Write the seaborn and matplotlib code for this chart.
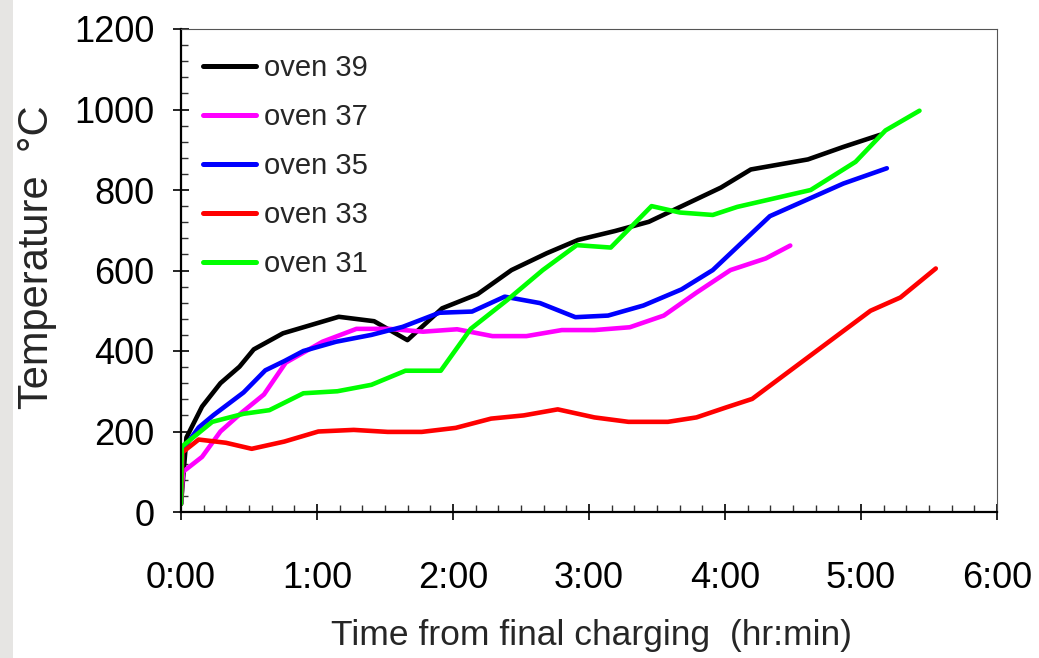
import pandas as pd
import matplotlib
matplotlib.use("Agg")
import matplotlib.pyplot as plt
from matplotlib.patches import Rectangle
from matplotlib.ticker import MultipleLocator, FuncFormatter
import seaborn as sns


# Oven temperature data (time in hours after final charging, temp in deg C)
ovens = ["oven 39", "oven 37", "oven 35", "oven 33", "oven 31"]
colors = ["#000000", "#FF00FF", "#0000FF", "#FF0000", "#00FF00"]

time_39 = [0, 0.04, 0.155, 0.29, 0.43, 0.535, 0.75, 0.93, 1.16, 1.42, 1.665, 1.92,
           2.18, 2.43, 2.69, 2.92, 3.19, 3.44, 3.97, 4.19, 4.61, 4.87, 5.14]
temp_39 = [20, 185, 262, 320, 361, 404, 444, 462, 485, 474, 427, 506,
           541, 601, 643, 676, 698, 721, 806, 851, 876, 907, 937]

time_37 = [0, 0.015, 0.155, 0.29, 0.45, 0.61, 0.77, 1.04, 1.29, 1.53, 1.78, 2.03,
           2.29, 2.54, 2.80, 3.04, 3.30, 3.55, 3.79, 4.04, 4.30, 4.48]
temp_37 = [20, 100, 137, 200, 248, 292, 371, 423, 455, 455, 448, 454,
           437, 437, 452, 452, 459, 488, 545, 601, 630, 662]

time_35 = [0, 0.01, 0.13, 0.24, 0.46, 0.62, 0.76, 0.90, 1.14, 1.40, 1.63, 1.90,
           2.14, 2.38, 2.64, 2.90, 3.14, 3.40, 3.68, 3.91, 4.33, 4.87, 5.19]
temp_35 = [20, 154, 210, 241, 297, 352, 375, 400, 423, 440, 460, 495,
           498, 535, 519, 484, 488, 513, 553, 601, 735, 816, 854]

time_33 = [0, 0.01, 0.13, 0.33, 0.52, 0.76, 1.01, 1.27, 1.52, 1.77, 2.02, 2.28,
           2.52, 2.77, 3.04, 3.29, 3.58, 3.79, 4.01, 4.20, 5.07, 5.29, 5.55]
temp_33 = [20, 148, 180, 172, 157, 175, 200, 204, 199, 199, 209, 232,
           240, 255, 235, 224, 224, 235, 260, 281, 500, 533, 605]

time_31 = [0, 0.005, 0.23, 0.46, 0.65, 0.90, 1.15, 1.40, 1.65, 1.91, 2.13, 2.40,
           2.66, 2.91, 3.16, 3.46, 3.67, 3.91, 4.09, 4.63, 4.96, 5.18, 5.43]
temp_31 = [20, 162, 224, 244, 253, 295, 300, 316, 351, 351, 455, 527,
           601, 663, 657, 760, 744, 738, 758, 800, 870, 948, 997]

times = [time_39, time_37, time_35, time_33, time_31]
temps = [temp_39, temp_37, temp_35, temp_33, temp_31]

df = pd.concat(
    [pd.DataFrame({"time": t, "temp": y, "oven": name})
     for name, t, y in zip(ovens, times, temps)],
    ignore_index=True,
)


# Plot
sns.set_style("ticks")
plt.rcParams["font.family"] = ["Liberation Sans", "DejaVu Sans"]

fig = plt.figure(figsize=(10.39, 6.58), dpi=100, facecolor="white")
fig.patches.append(Rectangle((0, 0), 13 / 1039, 1, transform=fig.transFigure,
                             facecolor="#e6e5e3", edgecolor="none", zorder=-1))
ax = fig.add_axes([181 / 1039, 1 - 512 / 658, 816 / 1039, 483 / 658])

sns.lineplot(
    data=df, x="time", y="temp", hue="oven",
    hue_order=ovens, palette=dict(zip(ovens, colors)),
    estimator=None, sort=False, linewidth=3.3, ax=ax,
)

ax.set_xlim(0, 6)
ax.set_ylim(0, 1200)

ax.xaxis.set_major_locator(MultipleLocator(1))
ax.xaxis.set_minor_locator(MultipleLocator(1 / 6))
ax.xaxis.set_major_formatter(FuncFormatter(lambda v, p: f"{int(round(v))}:00"))
ax.yaxis.set_major_locator(MultipleLocator(200))
ax.yaxis.set_minor_locator(MultipleLocator(40))

ax.tick_params(which="major", direction="inout", length=12, width=1.2,
               labelsize=26, colors="black")
ax.tick_params(axis="x", which="major", pad=29)
ax.tick_params(axis="y", which="major", pad=13)
ax.tick_params(which="minor", direction="in", length=5, width=1.0, color="#333333")

for side in ["left", "bottom"]:
    ax.spines[side].set_linewidth(1.6)
    ax.spines[side].set_color("black")
for side in ["top", "right"]:
    ax.spines[side].set_visible(True)
    ax.spines[side].set_linewidth(0.8)
    ax.spines[side].set_color("#555555")

ax.set_xlabel("Time from final charging  (hr:min)", fontsize=25.5)
ax.set_ylabel("Temperature  °C", fontsize=30)
ax.xaxis.set_label_coords(0.5025, -0.222)
ax.yaxis.set_label_coords(-0.152, 0.528)

handles, labels = ax.get_legend_handles_labels()
for h in handles:
    h.set_linewidth(3.6)
ax.legend(handles, labels, loc="upper left", bbox_to_anchor=(0.027, 0.948),
          frameon=False, fontsize=21, handlelength=1.8, handletextpad=0.3,
          labelspacing=0.72, borderpad=0, borderaxespad=0)

plt.savefig("out.png", dpi=100, facecolor="white")
